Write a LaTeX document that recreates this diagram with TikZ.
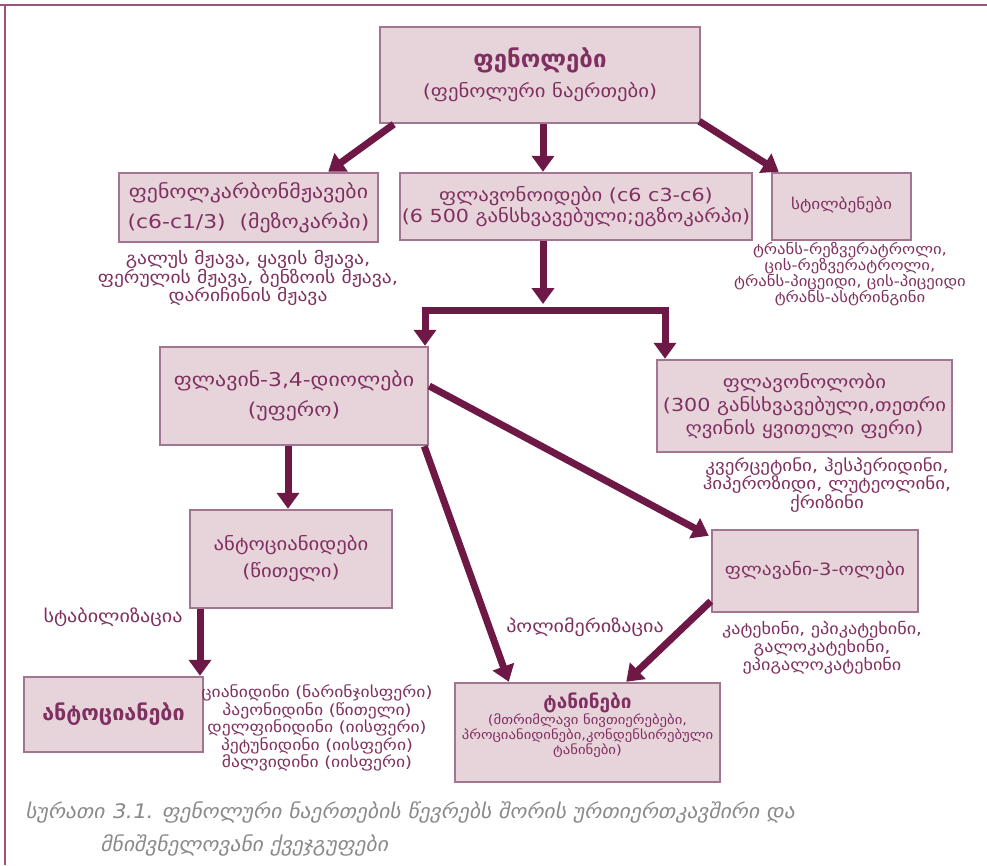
\documentclass[tikz,border=0pt]{standalone}
\usepackage{fontspec}
\setmainfont{DejaVu Sans}[FakeStretch=1.15]
\newfontfamily\bfam{DejaVu Sans Bold}
\newfontfamily\capfont{DejaVu Sans}[FakeSlant=0.2,FakeStretch=1.08]
\usetikzlibrary{arrows.meta}
\definecolor{boxfill}{HTML}{E7D4DB}
\definecolor{boxborder}{HTML}{A27690}
\definecolor{arrowc}{HTML}{6E1846}
\definecolor{txt}{HTML}{803060}
\definecolor{capc}{HTML}{8A8A8A}
\definecolor{framec}{HTML}{A0507A}
\newcommand\fs[2]{\fontsize{#1}{#2}\selectfont}
\tikzset{
  box/.style={draw=boxborder, line width=2.5pt, fill=boxfill, text=txt, align=center, inner sep=0pt},
  arr/.style={draw=arrowc, line width=7pt, -{Triangle[length=16pt,width=22pt]}},
  darr/.style={draw=arrowc, line width=7pt, {Triangle[length=16pt,width=22pt]}-{Triangle[length=16pt,width=22pt]}},
  lbl/.style={text=txt, align=center, inner sep=0pt},
}
\begin{document}
\begin{tikzpicture}[x=1pt,y=-1pt]
\useasboundingbox (0,0) rectangle (987,865);
\fill[white] (0,0) rectangle (987,865);
% frame
\draw[framec, line width=1.5pt] (0,5) -- (987,5);
\draw[framec, line width=1.5pt] (5,5) -- (5,865);

% boxes
\node[box, minimum width=320pt, minimum height=96pt, font=\fs{18}{22}] (top) at (540,75)
  {\bfam\fs{24}{30}ფენოლები\\[8pt](ფენოლური ნაერთები)};
\node[box, minimum width=259pt, minimum height=69pt, font=\fs{19}{30}] (left) at (248.5,207.5)
  {ფენოლკარბონმჟავები\\(c6-c1/3)\ \ (მეზოკარპი)};
\node[box, minimum width=352pt, minimum height=67pt, font=\fs{18}{21}] (mid) at (576,206.5)
  {ფლავონოიდები (c6 c3-c6)\\(6 500 განსხვავებული;ეგზოკარპი)};
\node[box, minimum width=139pt, minimum height=67pt, font=\fs{15}{18}] (stil) at (841.5,206.5)
  {\raisebox{6pt}{სტილბენები}};
\node[box, minimum width=268pt, minimum height=98pt, font=\fs{19}{30}] (flavin) at (294,396)
  {ფლავინ-3,4-დიოლები\\(უფერო)};
\node[box, minimum width=295pt, minimum height=92pt, font=\fs{18}{23}] (flavonol) at (804.5,406)
  {ფლავონოლობი\\(300 განსხვავებული,თეთრი\\ღვინის ყვითელი ფერი)};
\node[box, minimum width=202pt, minimum height=98pt, font=\fs{18}{27}] (antid) at (291,559)
  {ანტოციანიდები\\(წითელი)};
\node[box, minimum width=206pt, minimum height=82pt, font=\fs{17}{20}] (flavan) at (815,571)
  {\raisebox{6pt}{ფლავანი-3-ოლები}};
\node[box, minimum width=179pt, minimum height=75pt, font=\bfam\fs{21.5}{24}] (antoc) at (113.5,714.5)
  {ანტოციანები};
\node[box, minimum width=265pt, minimum height=99pt, font=\fs{12.8}{15}] (tanin) at (587.5,732.5)
  {\bfam\fs{19}{22}ტანინები\\(მთრიმლავი ნივთიერებები,\\პროციანიდინები,კონდენსირებული\\ტანინები)\\[2pt]\mbox{}};

% free texts
\node[lbl, font=\fs{17}{18.5}] (acids) at (248,278)
  {გალუს მჟავა, ყავის მჟავა,\\ფერულის მჟავა, ბენზოის მჟავა,\\დარიჩინის მჟავა};
\node[lbl, font=\fs{14.5}{16}] (stiltx) at (850,274)
  {ტრანს-რეზვერატროლი,\\ცის-რეზვერატროლი,\\ტრანს-პიცეიდი, ცის-პიცეიდი\\ტრანს-ასტრინგინი};
\node[lbl, font=\fs{16.5}{17}] (flavonoltx) at (827,485)
  {კვერცეტინი, ჰესპერიდინი,\\ჰიპეროზიდი, ლუტეოლინი,\\ქრიზინი};
\node[lbl, font=\fs{15.8}{16.5}] (flavantx) at (822,648)
  {კატეხინი, ეპიკატეხინი,\\გალოკატეხინი,\\ეპიგალოკატეხინი};
\node[lbl, font=\fs{15.3}{17.5}] (antoctx) at (317,728)
  {ციანიდინი (ნარინჯისფერი)\\პაეონიდინი (წითელი)\\დელფინიდინი (იისფერი)\\პეტუნიდინი (იისფერი)\\მალვიდინი (იისფერი)};
\node[lbl, font=\fs{17.5}{18}] (stab) at (113,617) {სტაბილიზაცია};
\node[lbl, font=\fs{17.5}{18}] (poly) at (585,627) {პოლიმერიზაცია};

% caption
\node[anchor=west, inner sep=0pt, text=capc, font=\capfont\fs{20}{24}] (cap1) at (25,812)
  {სურათი 3.1. ფენოლური ნაერთების წევრებს შორის ურთიერთკავშირი და};
\node[anchor=west, inner sep=0pt, text=capc, font=\capfont\fs{20}{24}] (cap2) at (100,845)
  {მნიშვნელოვანი ქვეჯგუფები};

% helper coordinates
\coordinate (x543) at (543,0);
\coordinate (x425) at (425,0);
\coordinate (x665) at (665,0);
\coordinate (x288) at (288,0);
\coordinate (x200) at (200,0);
\coordinate (jn) at (543,304);
\coordinate (bar) at (543,310);

% connectors
\draw[arr] ([xshift=15pt]top.south west) -- ([xshift=-51pt]left.north east);
\draw[arr] (top.south -| x543) -- (mid.north -| x543);
\draw[arr] ([xshift=-2pt,yshift=3pt]top.south east) -- ([xshift=8pt]stil.north west);
\draw[arr] (mid.south -| x543) -- (jn);
\draw[darr, line join=miter] (flavin.north -| x425) |- (bar) -| (flavonol.north -| x665);
\draw[arr] (flavin.south -| x288) -- (antid.north -| x288);
\draw[arr] (antid.south -| x200) -- (antoc.north -| x200);
\draw[arr] ([xshift=-5pt]flavin.south east) -- ([xshift=55pt]tanin.north west);
\draw[arr] ([yshift=10pt]flavin.east) -- ([xshift=-2pt,yshift=-7pt]flavan.north west);
\draw[arr] ([yshift=12pt]flavan.south west) -- ([xshift=-95pt]tanin.north east);
\end{tikzpicture}
\end{document}
